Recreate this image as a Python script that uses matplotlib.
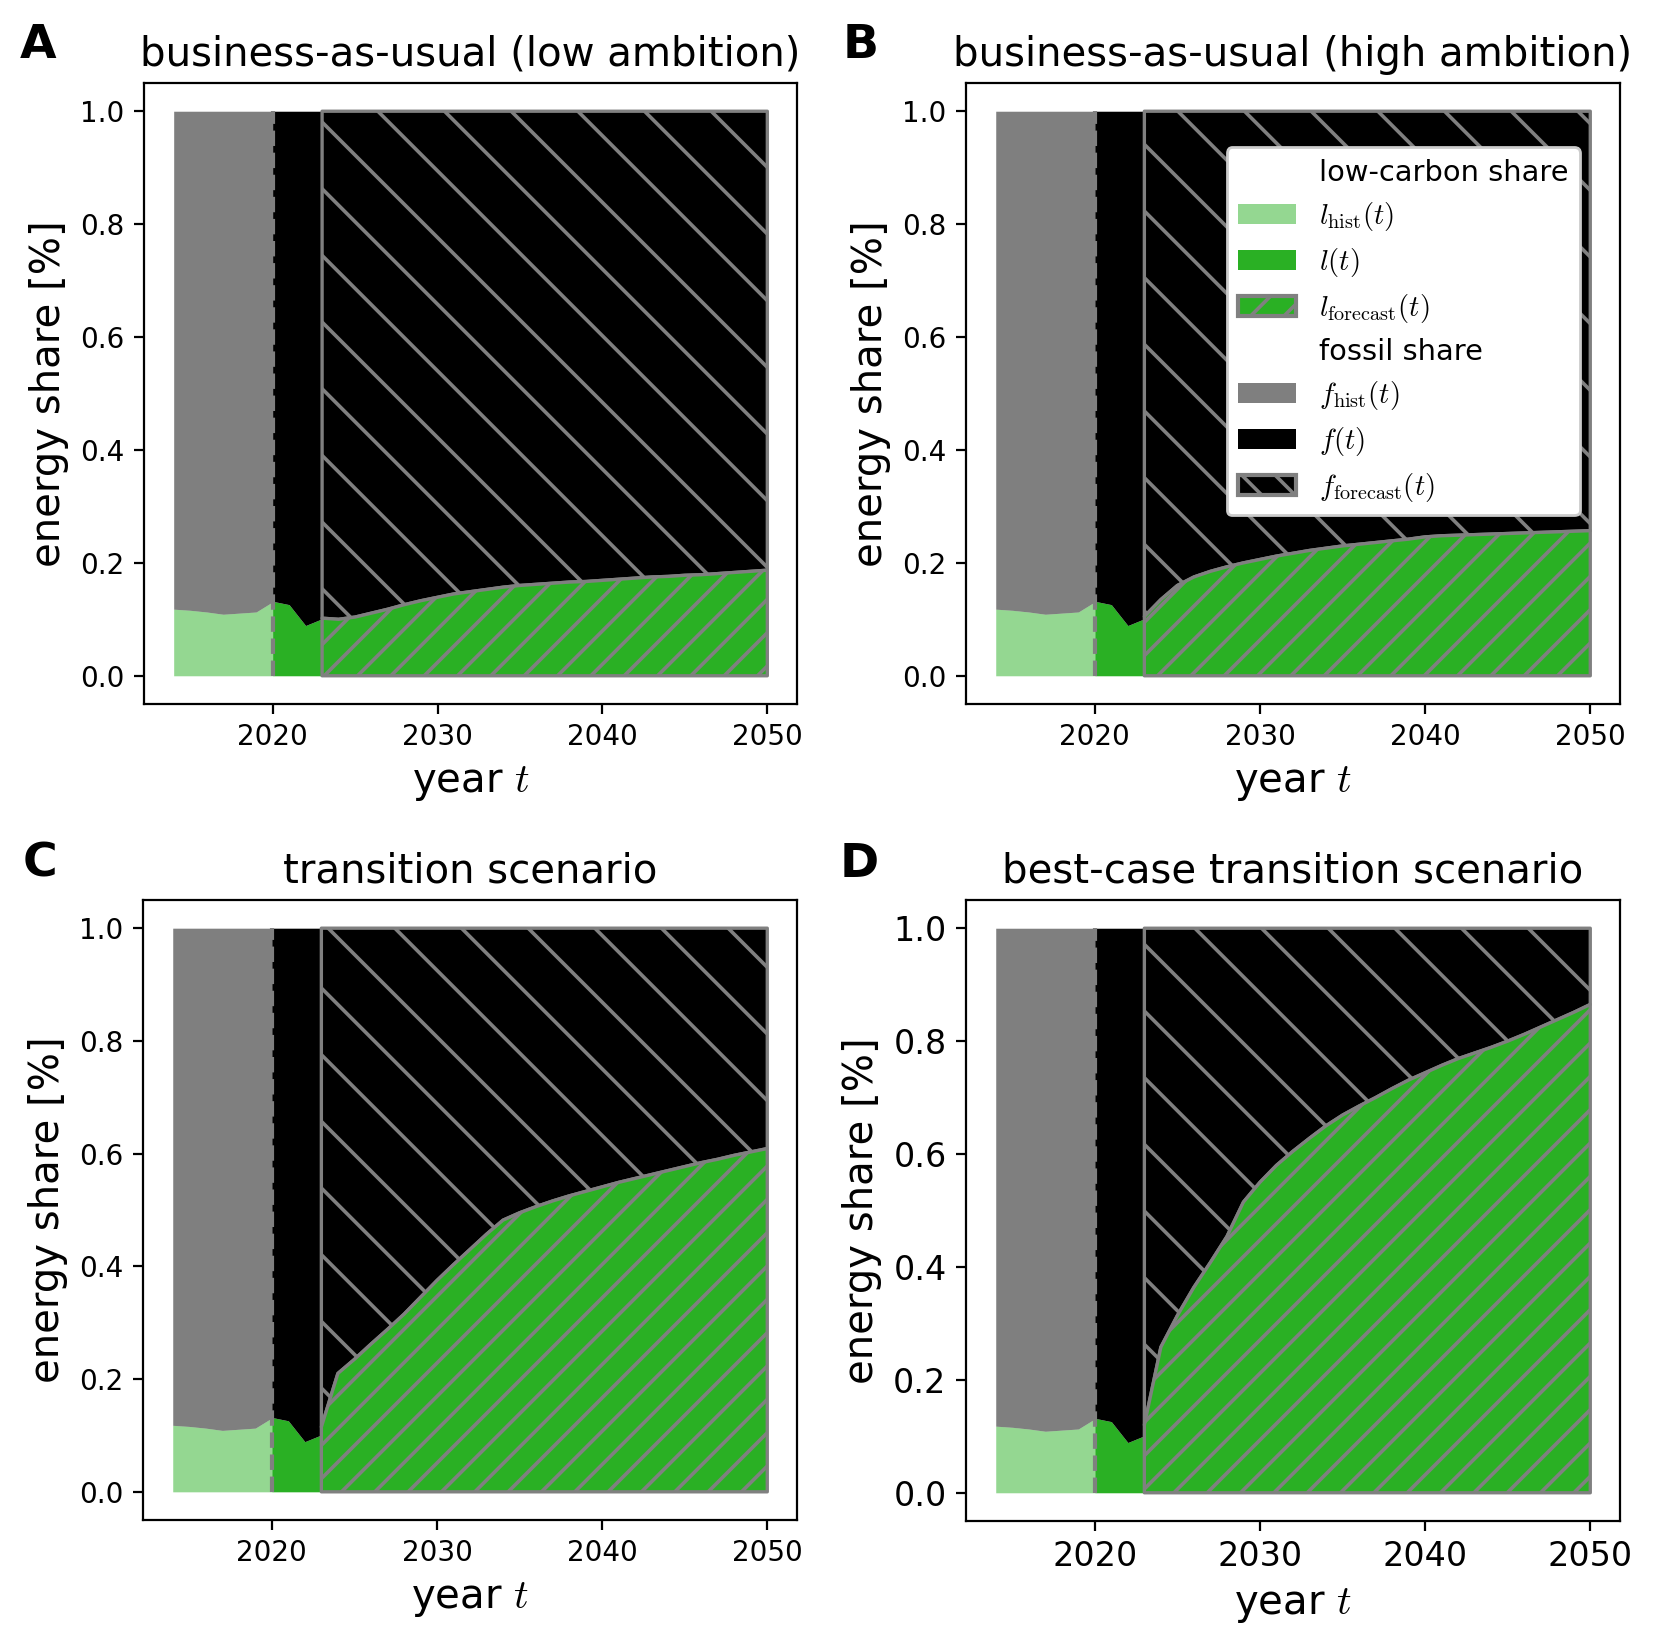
import matplotlib
matplotlib.use('Agg')
import matplotlib.pyplot as plt
from matplotlib.patches import Patch

plt.rcParams['mathtext.fontset'] = 'cm'
plt.rcParams['hatch.linewidth'] = 1.3

# ---- data ----
years_hist = [2014, 2015, 2016, 2017, 2018, 2019, 2020]
low_hist = [0.118, 0.116, 0.113, 0.109, 0.111, 0.113, 0.131]

years_now = [2020, 2021, 2022, 2023]
low_now = [0.132, 0.126, 0.089, 0.101]

years_fc = list(range(2023, 2051))
low_fc_bau_low = [0.102, 0.100, 0.104, 0.111, 0.118, 0.126, 0.133, 0.139, 0.145, 0.149,
                  0.153, 0.157, 0.160, 0.162, 0.164, 0.166, 0.167, 0.169, 0.171, 0.173,
                  0.175, 0.176, 0.178, 0.179, 0.181, 0.183, 0.185, 0.187]
low_fc_bau_high = [0.105, 0.135, 0.160, 0.175, 0.185, 0.193, 0.200, 0.206, 0.212, 0.217,
                   0.222, 0.226, 0.230, 0.233, 0.236, 0.239, 0.242, 0.246, 0.248, 0.249,
                   0.250, 0.251, 0.252, 0.253, 0.254, 0.255, 0.256, 0.257]
low_fc_transition = [0.115, 0.210, 0.235, 0.262, 0.288, 0.315, 0.345, 0.375, 0.403, 0.430,
                     0.457, 0.482, 0.495, 0.506, 0.516, 0.525, 0.533, 0.541, 0.549, 0.556,
                     0.563, 0.570, 0.577, 0.584, 0.590, 0.597, 0.603, 0.609]
low_fc_best = [0.120, 0.258, 0.314, 0.364, 0.408, 0.454, 0.515, 0.550, 0.580, 0.605,
               0.628, 0.650, 0.669, 0.685, 0.700, 0.716, 0.731, 0.744, 0.757, 0.769,
               0.779, 0.789, 0.800, 0.812, 0.825, 0.838, 0.851, 0.865]

titles = ['business-as-usual (low ambition)', 'business-as-usual (high ambition)',
          'transition scenario', 'best-case transition scenario']
letters = ['A', 'B', 'C', 'D']
xticks = [2020, 2030, 2040, 2050]

GREEN = '#2ab024'
W, H = 1657, 1648
DPI = 200

def px_box(x0, y0, x1, y1):
    return [x0 / W, 1 - y1 / H, (x1 - x0) / W, (y1 - y0) / H]

fig = plt.figure(figsize=(W / DPI, H / DPI), dpi=DPI)

boxes = [px_box(144, 83, 797, 704), px_box(966, 83, 1620, 704),
         px_box(143, 900, 797, 1520), px_box(966, 900, 1620, 1521)]
letter_pos = [(20, 58), (843, 58), (23, 877), (840, 877)]
tick_sizes = [10, 10, 10, 12]
forecasts = [low_fc_bau_low, low_fc_bau_high, low_fc_transition, low_fc_best]

axes = []
for i in range(4):
    ax = fig.add_axes(boxes[i])
    low_fc = forecasts[i]
    ax.fill_between(years_hist, 0, low_hist, color=GREEN, alpha=0.5, lw=0)
    ax.fill_between(years_hist, low_hist, 1, color='black', alpha=0.5, lw=0)
    ax.fill_between(years_now, 0, low_now, color=GREEN, lw=0)
    ax.fill_between(years_now, low_now, 1, color='black', lw=0)
    ax.fill_between(years_fc, low_fc, 1, facecolor='black', edgecolor='grey',
                    hatch='\\', lw=1.2)
    ax.fill_between(years_fc, 0, low_fc, facecolor=GREEN, edgecolor='grey',
                    hatch='//', lw=1.2)
    ax.vlines(2020, 0, 1, colors='grey', linestyles='--', lw=1.5)
    ax.set_xticks(xticks)
    ax.tick_params(labelsize=tick_sizes[i])
    ax.set_xlabel('year $t$', fontsize=14.5)
    ax.set_ylabel('energy share [%]', fontsize=14.5)
    ax.set_title(titles[i], fontsize=14.5, pad=6.2)
    lx, ly = letter_pos[i]
    fig.text(lx / W, 1 - ly / H, letters[i], fontsize=17, fontweight='bold',
             ha='left', va='baseline')
    axes.append(ax)

handles = [
    Patch(facecolor='none', edgecolor='none', label='low-carbon share'),
    Patch(facecolor=GREEN, alpha=0.5, label=r'$l_\mathrm{hist}(t)$'),
    Patch(facecolor=GREEN, label=r'$l(t)$'),
    Patch(facecolor=GREEN, edgecolor='grey', hatch='//', lw=1.5,
          label=r'$l_\mathrm{forecast}(t)$'),
    Patch(facecolor='none', edgecolor='none', label='fossil share'),
    Patch(facecolor='black', alpha=0.5, label=r'$f_\mathrm{hist}(t)$'),
    Patch(facecolor='black', label=r'$f(t)$'),
    Patch(facecolor='black', edgecolor='grey', hatch='\\\\', lw=1.5,
          label=r'$f_\mathrm{forecast}(t)$'),
]
axes[1].legend(handles=handles, loc='upper right', bbox_to_anchor=(0.939, 0.8965),
               borderaxespad=0, framealpha=1, fontsize=10.4, labelspacing=0.45)

fig.savefig('out.png', dpi=DPI)
